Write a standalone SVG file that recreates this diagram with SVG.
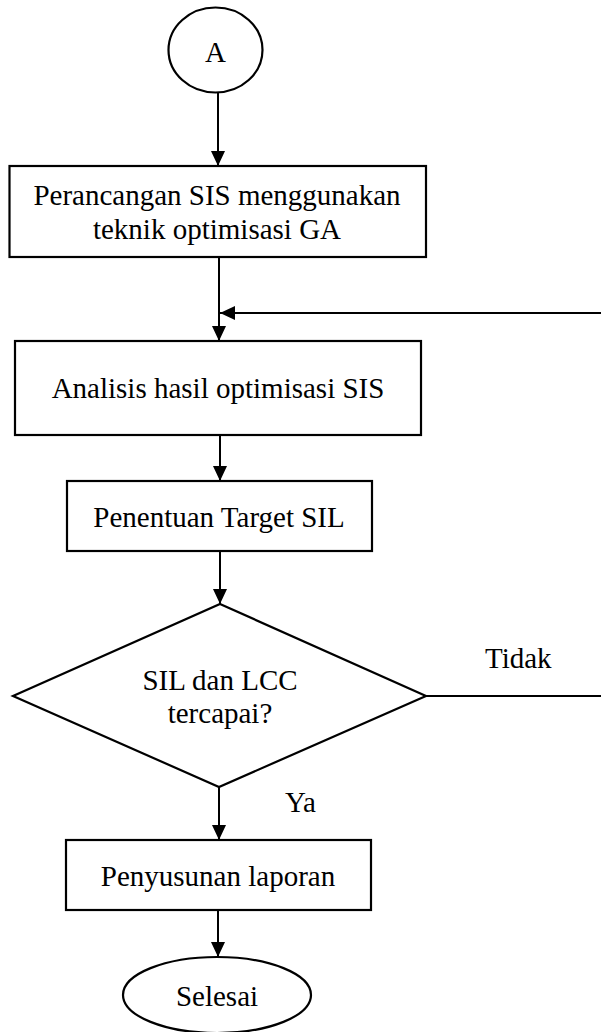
<svg xmlns="http://www.w3.org/2000/svg" width="601" height="1032" viewBox="0 0 601 1032">
<style>
.shape{fill:#fff;stroke:#000;stroke-width:2.2}
.line{fill:none;stroke:#000;stroke-width:2}
text{font-family:"Liberation Serif","Times New Roman",serif;font-size:29px;fill:#000}
.c{text-anchor:middle}
</style>
<defs>
<marker id="arr" markerUnits="userSpaceOnUse" markerWidth="16" markerHeight="15" refX="15" refY="7" orient="auto">
<path d="M0,0 L15,7 L0,14 z" fill="#000"/>
</marker>
</defs>
<g id="connectors">
<line class="line" x1="218" y1="92" x2="218" y2="166" marker-end="url(#arr)"/>
<line class="line" x1="219" y1="257" x2="219" y2="341" marker-end="url(#arr)"/>
<line class="line" x1="601" y1="313" x2="220" y2="313" marker-end="url(#arr)"/>
<line class="line" x1="220" y1="435" x2="220" y2="481" marker-end="url(#arr)"/>
<line class="line" x1="220" y1="551" x2="220" y2="604" marker-end="url(#arr)"/>
<line class="line" x1="426" y1="696" x2="601" y2="696"/>
<line class="line" x1="219" y1="787" x2="219" y2="840" marker-end="url(#arr)"/>
<line class="line" x1="218" y1="910" x2="218" y2="957" marker-end="url(#arr)"/>
<text x="485" y="668">Tidak</text>
<text x="285" y="812">Ya</text>
</g>
<g id="node-a">
<ellipse class="shape" cx="215.5" cy="50" rx="47" ry="42.5"/>
<text class="c" x="215.5" y="62">A</text>
</g>
<g id="node-perancangan">
<rect class="shape" x="9.5" y="166" width="416.5" height="91"/>
<text class="c" x="217" y="205">Perancangan SIS menggunakan</text>
<text class="c" x="217" y="239">teknik optimisasi GA</text>
</g>
<g id="node-analisis">
<rect class="shape" x="15" y="341" width="406" height="94"/>
<text class="c" x="218" y="398">Analisis hasil optimisasi SIS</text>
</g>
<g id="node-penentuan">
<rect class="shape" x="67" y="481" width="305" height="70"/>
<text class="c" x="219" y="527">Penentuan Target SIL</text>
</g>
<g id="node-decision">
<polygon class="shape" points="220,604 426,696 219,787 13,696"/>
<text class="c" x="220" y="690">SIL dan LCC</text>
<text class="c" x="220" y="723">tercapai?</text>
</g>
<g id="node-penyusunan">
<rect class="shape" x="66" y="840" width="305" height="70"/>
<text class="c" x="218" y="886">Penyusunan laporan</text>
</g>
<g id="node-selesai">
<ellipse class="shape" cx="217" cy="995" rx="94" ry="38"/>
<text class="c" x="217" y="1006">Selesai</text>
</g>
</svg>
